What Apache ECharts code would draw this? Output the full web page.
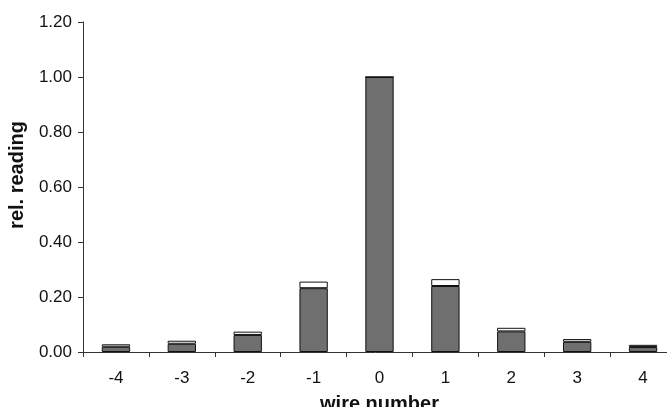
<!DOCTYPE html>
<html><head><meta charset="utf-8">
<script src="https://cdn.jsdelivr.net/npm/echarts@6/dist/echarts.min.js"></script>
<style>html,body{margin:0;padding:0;background:#fff}#c{width:667px;height:407px}</style>
</head><body><div id="c"></div>
<script>
const categories = ['-4','-3','-2','-1','0','1','2','3','4'];
const grayValues = [0.019, 0.030, 0.062, 0.232, 1.000, 0.240, 0.075, 0.037, 0.018];
const totalValues = [0.028, 0.041, 0.074, 0.256, 1.000, 0.265, 0.088, 0.047, 0.026];
const whiteValues = totalValues.map((t, i) => Math.max(0, +(t - grayValues[i]).toFixed(3)));
const yTicks = { min: 0, max: 1.2, interval: 0.2 };

const chart = echarts.init(document.getElementById('c'));
chart.setOption({
  animation: false,
  backgroundColor: '#fff',
  textStyle: { fontFamily: 'Liberation Sans, Arial, sans-serif' },
  grid: { left: 83, right: -9, top: 22, bottom: 55, outerBoundsMode: 'none', containLabel: false },
  xAxis: {
    type: 'category', data: categories,
    name: 'wire number', nameLocation: 'middle', nameGap: 42,
    nameTextStyle: { fontSize: 20, fontWeight: 'bold', color: '#111' },
    axisLine: { lineStyle: { color: '#333', width: 1 } },
    axisTick: { show: true, length: 5, lineStyle: { color: '#333' } },
    axisLabel: { fontSize: 17, color: '#111', margin: 18 }
  },
  yAxis: {
    type: 'value', min: yTicks.min, max: yTicks.max, interval: yTicks.interval,
    name: 'rel. reading', nameLocation: 'middle', nameGap: 56,
    nameTextStyle: { fontSize: 20, fontWeight: 'bold', color: '#111', padding: [0, 0, 0, 24] },
    axisLine: { show: true, lineStyle: { color: '#333', width: 1 } },
    axisTick: { show: true, length: 5, lineStyle: { color: '#333' } },
    splitLine: { show: false },
    axisLabel: { fontSize: 17, color: '#111', margin: 11, formatter: v => v.toFixed(2) }
  },
  series: [
    { type: 'bar', stack: 's', data: grayValues, barCategoryGap: '57%',
      itemStyle: { color: '#6f6f6f', borderColor: '#111', borderWidth: 1 } },
    { type: 'bar', stack: 's', data: whiteValues,
      itemStyle: { color: '#fff', borderColor: '#111', borderWidth: 1 } }
  ]
});
</script></body></html>
